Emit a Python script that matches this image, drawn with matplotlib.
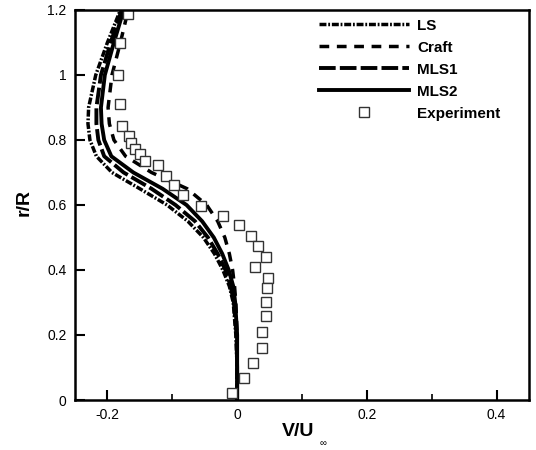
import matplotlib.pyplot as plt
from matplotlib.ticker import MultipleLocator, FormatStrFormatter

plt.rcParams['font.family'] = ['Liberation Sans', 'DejaVu Sans']
plt.rcParams['lines.scale_dashes'] = False

# r/R positions where the computed profiles were read
r_curve = [0.0, 0.1, 0.2, 0.3, 0.35, 0.4, 0.45, 0.5, 0.55, 0.6,
           0.65, 0.7, 0.75, 0.8, 0.85, 0.9, 1.0, 1.1, 1.2]
v_ls = [0.0, 0.0, -0.002, -0.006, -0.012, -0.022, -0.035, -0.052, -0.076, -0.108,
        -0.15, -0.193, -0.217, -0.227, -0.23, -0.229, -0.218, -0.2, -0.18]
v_craft = [0.0, 0.0, 0.0, -0.002, -0.004, -0.007, -0.012, -0.019, -0.03, -0.047,
           -0.077, -0.132, -0.172, -0.19, -0.197, -0.199, -0.193, -0.18, -0.168]
v_mls1 = [0.0, 0.0, -0.001, -0.005, -0.01, -0.018, -0.03, -0.045, -0.065, -0.095,
          -0.132, -0.175, -0.205, -0.214, -0.217, -0.217, -0.21, -0.195, -0.178]
v_mls2 = [0.0, 0.0, 0.0, -0.003, -0.006, -0.013, -0.023, -0.036, -0.054, -0.078,
          -0.115, -0.16, -0.194, -0.205, -0.209, -0.21, -0.204, -0.19, -0.175]

# experiment
v_exp = [-0.169, -0.180, -0.183, -0.181, -0.178, -0.167, -0.163, -0.158, -0.150,
         -0.142, -0.122, -0.109, -0.098, -0.084, -0.055, -0.022, 0.003, 0.021,
         0.032, 0.044, 0.028, 0.048, 0.046, 0.045, 0.044, 0.038, 0.038, 0.024,
         0.010, -0.008]
r_exp = [1.188, 1.098, 0.999, 0.910, 0.844, 0.812, 0.790, 0.772, 0.756,
         0.736, 0.722, 0.690, 0.661, 0.631, 0.598, 0.566, 0.538, 0.505,
         0.475, 0.439, 0.410, 0.376, 0.346, 0.302, 0.258, 0.210, 0.161, 0.115,
         0.069, 0.022]

fig = plt.figure(figsize=(5.36, 4.5), dpi=100)
ax = fig.add_axes([75/536, 50/450, 454/536, 390/450])

ax.plot(v_ls, r_curve, color='black', lw=2.5, dashes=(5, 1.3, 1.3, 1.3), label='LS')
ax.plot(v_craft, r_curve, color='black', lw=2.5, dashes=(7, 5.5), label='Craft')
ax.plot(v_mls1, r_curve, color='black', lw=2.8, dashes=(12, 3), label='MLS1')
ax.plot(v_mls2, r_curve, color='black', lw=2.8, label='MLS2')
ax.plot(v_exp, r_exp, ls='none', marker='s', ms=7, mfc='white', mec='#333333',
        mew=1.0, label='Experiment')

ax.set_xlim(-0.25, 0.45)
ax.set_ylim(0, 1.2)
ax.xaxis.set_major_locator(MultipleLocator(0.2))
ax.xaxis.set_minor_locator(MultipleLocator(0.1))
ax.yaxis.set_major_locator(MultipleLocator(0.2))
ax.xaxis.set_major_formatter(FormatStrFormatter('%g'))
ax.yaxis.set_major_formatter(FormatStrFormatter('%g'))
ax.tick_params(which='major', direction='in', length=7, width=1.5, labelsize=10, pad=6)
ax.tick_params(which='minor', direction='in', length=4, width=1.2)
for s in ax.spines.values():
    s.set_linewidth(1.8)

fig.text(298/536, 1 - 432/450, 'V/U', fontsize=14, fontweight='bold', ha='center', va='center')
fig.text(323/536, 1 - 443/450, '\u221e', fontsize=7, ha='center', va='center')
fig.text(24/536, 1 - 203/450, 'r/R', fontsize=14, fontweight='bold', rotation=90,
         ha='center', va='center')

leg = ax.legend(loc='upper left', bbox_to_anchor=(305/536, 1 - 5/450),
                bbox_transform=fig.transFigure, frameon=False, numpoints=1,
                handlelength=5.9, handletextpad=0.55, labelspacing=0.52,
                prop={'weight': 'bold', 'size': 11})

fig.savefig('out.png', dpi=100)
